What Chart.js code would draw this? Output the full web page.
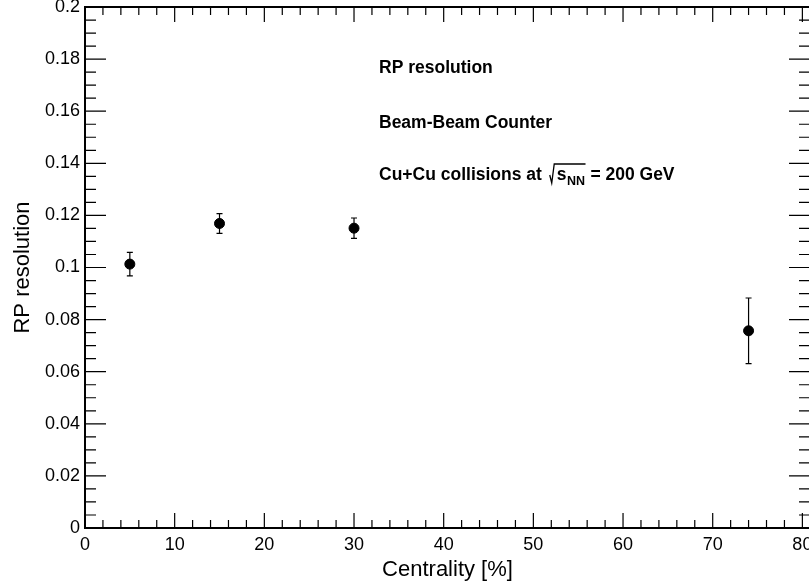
<!DOCTYPE html>
<html>
<head>
<meta charset="utf-8">
<script src="https://cdn.jsdelivr.net/npm/chart.js@4.4.0/dist/chart.umd.min.js"></script>
<style>
    html, body { margin: 0; padding: 0; background: #fff; overflow: hidden; }
    body { width: 809px; height: 588px; }
    #wrap { width: 816px; height: 588px; position: relative; }
</style>
</head>
<body>
<div id="wrap"><canvas id="graphCanvas"></canvas></div>
<script>
// values
var centrality = [5, 15, 30, 74];
var resolution = [0.1013, 0.1169, 0.1151, 0.0757];
var resolutionErr = [0.0045, 0.0038, 0.0039, 0.0126];

var xTicks = [0, 10, 20, 30, 40, 50, 60, 70, 80];
var yTicks = [0, 0.02, 0.04, 0.06, 0.08, 0.1, 0.12, 0.14, 0.16, 0.18, 0.2];

var noteLines = ['RP resolution', 'Beam-Beam Counter'];
var energyText = ['Cu+Cu collisions at ', 's', 'NN', ' = 200 GeV'];

var FONT = '"Liberation Sans", Arial, Helvetica, sans-serif';

// error bars under the markers
var errorBarPlugin = {
    id: 'errorBars',
    beforeDatasetsDraw: function (chart) {
        var ctx = chart.ctx;
        var xs = chart.scales.x, ys = chart.scales.y;
        ctx.save();
        ctx.strokeStyle = '#000';
        ctx.lineWidth = 1.2;
        ctx.beginPath();
        for (var i = 0; i < centrality.length; i++) {
            var px = xs.getPixelForValue(centrality[i]);
            var top = ys.getPixelForValue(resolution[i] + resolutionErr[i]);
            var bot = ys.getPixelForValue(resolution[i] - resolutionErr[i]);
            ctx.moveTo(px, top); ctx.lineTo(px, bot);
            ctx.moveTo(px - 3, top); ctx.lineTo(px + 3, top);
            ctx.moveTo(px - 3, bot); ctx.lineTo(px + 3, bot);
        }
        ctx.stroke();
        ctx.restore();
    }
};

// ROOT-style frame with inward ticks on all four sides
var framePlugin = {
    id: 'rootFrame',
    afterDraw: function (chart) {
        var ctx = chart.ctx, a = chart.chartArea;
        var xs = chart.scales.x, ys = chart.scales.y;
        ctx.save();
        ctx.strokeStyle = '#000';
        ctx.lineWidth = 1.2;
        ctx.beginPath();
        for (var i = 0; i <= 40; i++) {
            var v = i * 2;
            if (v > xs.max) break;
            var px = xs.getPixelForValue(v);
            var len = (i % 5 === 0) ? 15 : 8;
            ctx.moveTo(px, a.bottom); ctx.lineTo(px, a.bottom - len);
            ctx.moveTo(px, a.top); ctx.lineTo(px, a.top + len);
        }
        for (var j = 0; j <= 40; j++) {
            var py = ys.getPixelForValue(j * 0.005);
            var l = (j % 4 === 0) ? 21 : 11;
            ctx.moveTo(a.left, py); ctx.lineTo(a.left + l, py);
            ctx.moveTo(a.right, py); ctx.lineTo(a.right - l, py);
        }
        ctx.stroke();
        ctx.lineWidth = 2;
        ctx.strokeRect(a.left, a.top, a.right - a.left, a.bottom - a.top);
        ctx.restore();
    }
};

// text block inside the frame
var notePlugin = {
    id: 'notes',
    afterDraw: function (chart) {
        var ctx = chart.ctx;
        var x = 379, y = 180;
        ctx.save();
        ctx.fillStyle = '#000';
        ctx.strokeStyle = '#000';
        ctx.textBaseline = 'alphabetic';
        ctx.textAlign = 'left';
        ctx.font = 'bold 17.5px ' + FONT;
        ctx.fillText(noteLines[0], x, 73);
        ctx.fillText(noteLines[1], x, 128);

        ctx.fillText(energyText[0], x, y);
        x += ctx.measureText(energyText[0]).width + 3;
        var rootStart = x;
        var sX = rootStart + 7;
        ctx.fillText(energyText[1], sX, y);
        var nnX = sX + ctx.measureText(energyText[1]).width + 0.5;
        ctx.font = 'bold 12.5px ' + FONT;
        ctx.fillText(energyText[2], nnX, y + 5);
        var endX = nnX + ctx.measureText(energyText[2]).width + 0.5;

        ctx.lineWidth = 1.3;
        ctx.beginPath();
        ctx.moveTo(rootStart, y - 5);
        ctx.lineTo(rootStart + 2, y + 3);
        ctx.lineTo(rootStart + 4.5, y - 16);
        ctx.lineTo(endX, y - 16);
        ctx.stroke();

        ctx.font = 'bold 17.5px ' + FONT;
        ctx.fillText(energyText[3], endX, y);
        ctx.restore();
    }
};

function showGraph() {
    var points = [];
    for (var i in centrality) {
        points.push({ x: centrality[i], y: resolution[i] });
    }

    var graphTarget = document.getElementById('graphCanvas');

    new Chart(graphTarget, {
        type: 'scatter',
        data: {
            datasets: [
                {
                    label: 'RP resolution',
                    data: points,
                    backgroundColor: '#000',
                    borderColor: '#000',
                    pointRadius: 5,
                    pointHoverRadius: 5,
                    showLine: false
                }
            ]
        },
        options: {
            responsive: true,
            maintainAspectRatio: false,
            animation: false,
            events: [],
            layout: { padding: { top: 7, right: 0, bottom: 0, left: 0 } },
            plugins: {
                legend: { display: false },
                tooltip: { enabled: false }
            },
            scales: {
                x: {
                    type: 'linear',
                    min: 0,
                    max: 80.85,
                    grid: { display: false, drawTicks: false },
                    border: { display: false },
                    afterBuildTicks: function (scale) {
                        scale.ticks = xTicks.map(function (v) { return { value: v }; });
                    },
                    afterFit: function (scale) {
                        scale.height = 60;
                        scale.paddingLeft = 0;
                        scale.paddingRight = 0;
                    },
                    ticks: {
                        color: '#000',
                        font: { family: FONT, size: 18 },
                        padding: 6,
                        maxRotation: 0,
                        autoSkip: false,
                        callback: function (v) { return String(v); }
                    },
                    title: {
                        display: true,
                        text: 'Centrality [%]',
                        color: '#000',
                        font: { family: FONT, size: 22 },
                        padding: { top: 0, bottom: 5 }
                    }
                },
                y: {
                    type: 'linear',
                    min: 0,
                    max: 0.2,
                    grid: { display: false, drawTicks: false },
                    border: { display: false },
                    afterBuildTicks: function (scale) {
                        scale.ticks = yTicks.map(function (v) { return { value: v }; });
                    },
                    afterFit: function (scale) {
                        scale.width = 85;
                        scale.paddingTop = 0;
                        scale.paddingBottom = 0;
                    },
                    ticks: {
                        color: '#000',
                        font: { family: FONT, size: 18 },
                        padding: 5,
                        autoSkip: false,
                        callback: function (v) { return String(+v.toFixed(3)); }
                    },
                    title: {
                        display: true,
                        text: 'RP resolution',
                        color: '#000',
                        font: { family: FONT, size: 22 },
                        padding: { top: 10, bottom: 0 }
                    }
                }
            }
        },
        plugins: [errorBarPlugin, framePlugin, notePlugin]
    });
}

showGraph();
</script>
</body>
</html>
